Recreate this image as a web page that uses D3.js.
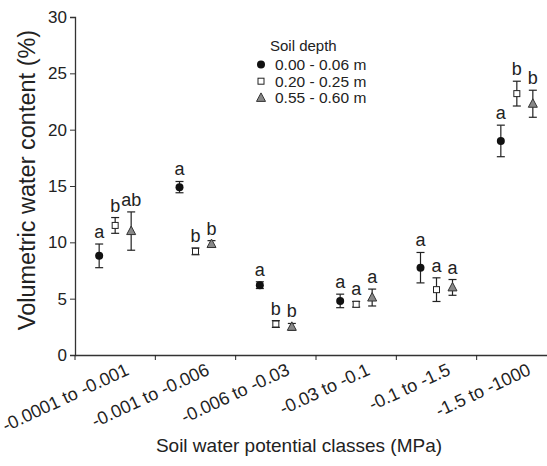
<!DOCTYPE html>
<html>
<head>
<meta charset="utf-8">
<script src="https://cdn.jsdelivr.net/npm/d3@7"></script>
<style>
body { margin: 0; background: #fff; }
text { font-family: "Liberation Sans", Arial, sans-serif; fill: #222; }
</style>
</head>
<body>
<div id="chart"></div>
<script>
var classes = ["-0.0001 to -0.001", "-0.001 to -0.006", "-0.006 to -0.03",
               "-0.03 to -0.1", "-0.1 to -1.5", "-1.5 to -1000"];
var depths = ["0.00 - 0.06 m", "0.20 - 0.25 m", "0.55 - 0.60 m"];

// mean and error per depth, one value per class
var mean0 = [8.8, 14.9, 6.2, 4.8, 7.75, 19.0];
var err0  = [1.05, 0.5, 0.3, 0.6, 1.35, 1.4];
var lab0  = ["a", "a", "a", "a", "a", "a"];
var mean1 = [11.5, 9.2, 2.75, 4.5, 5.8, 23.2];
var err1  = [0.7, 0.3, 0.3, 0.25, 1.05, 1.1];
var lab1  = ["b", "b", "b", "a", "a", "b"];
var mean2 = [11.0, 9.85, 2.5, 5.1, 6.0, 22.3];
var err2  = [1.7, 0.3, 0.3, 0.75, 0.7, 1.2];
var lab2  = ["ab", "b", "b", "a", "a", "b"];

var W = 547, H = 466;
var svg = d3.select("#chart").append("svg")
    .attr("width", W).attr("height", H);

var x = d3.scaleBand().domain(classes).range([75, 557]);
var y = d3.scaleLinear().domain([0, 30]).range([355, 17]);
var off = d3.scalePoint().domain(depths).range([-16, 16]);

// y axis
var yAxisG = svg.append("g")
    .attr("transform", "translate(75,0)")
    .call(d3.axisLeft(y).tickValues([0, 5, 10, 15, 20, 25, 30]).tickSize(5).tickPadding(3));
yAxisG.selectAll("text").attr("font-size", "17px").style("fill", "#222");

// x axis with ticks at class boundaries
var xAxisG = svg.append("g")
    .attr("transform", "translate(0,355)")
    .call(d3.axisBottom(x).tickSize(0).tickFormat(""));
xAxisG.selectAll(".tick").remove();
xAxisG.selectAll(".bound")
    .data(classes)
  .enter().append("line")
    .attr("x1", function (d) { return x(d); })
    .attr("x2", function (d) { return x(d); })
    .attr("y1", 0).attr("y2", 5)
    .attr("stroke", "#222");
xAxisG.selectAll(".lab")
    .data(classes)
  .enter().append("text")
    .attr("text-anchor", "end")
    .attr("font-size", "18px")
    .attr("transform", function (d) {
      return "translate(" + (x(d) + x.bandwidth() / 2 + 15) + ",19) rotate(-25)";
    })
    .text(function (d) { return d; });

svg.selectAll(".domain").attr("stroke", "#333").attr("stroke-width", 1.3);
svg.selectAll(".tick line").attr("stroke", "#333");

// axis titles
svg.append("text")
    .attr("x", 299).attr("y", 452)
    .attr("text-anchor", "middle")
    .attr("font-size", "19px")
    .text("Soil water potential classes (MPa)");
svg.append("text")
    .attr("transform", "translate(35,180) rotate(-90)")
    .attr("text-anchor", "middle")
    .attr("font-size", "23.5px")
    .text("Volumetric water content (%)");

var series = [
  { depth: depths[0], mean: mean0, err: err0, lab: lab0 },
  { depth: depths[1], mean: mean1, err: err1, lab: lab1 },
  { depth: depths[2], mean: mean2, err: err2, lab: lab2 }
];

function marker(g, depth) {
  if (depth === depths[0]) {
    g.append("circle").attr("r", 4).attr("fill", "#111");
  } else if (depth === depths[1]) {
    g.append("rect").attr("x", -3).attr("y", -3).attr("width", 6).attr("height", 6)
      .attr("fill", "#fff").attr("stroke", "#222").attr("stroke-width", 1);
  } else {
    g.append("path").attr("d", "M0,-5L4.5,3.5L-4.5,3.5Z")
      .attr("fill", "#888").attr("stroke", "#333").attr("stroke-width", 1);
  }
}

series.forEach(function (s) {
  var pts = classes.map(function (c, i) {
    return { c: c, m: s.mean[i], e: s.err[i], l: s.lab[i] };
  });
  var cx = function (d) { return x(d.c) + x.bandwidth() / 2 + off(s.depth); };
  var g = svg.append("g");
  var pg = g.selectAll("g").data(pts).enter().append("g");
  pg.append("line")
    .attr("x1", cx).attr("x2", cx)
    .attr("y1", function (d) { return y(d.m + d.e); })
    .attr("y2", function (d) { return y(d.m - d.e); })
    .attr("stroke", "#222").attr("stroke-width", 1.2);
  [1, -1].forEach(function (sg) {
    pg.append("line")
      .attr("x1", function (d) { return cx(d) - 4; })
      .attr("x2", function (d) { return cx(d) + 4; })
      .attr("y1", function (d) { return y(d.m + sg * d.e); })
      .attr("y2", function (d) { return y(d.m + sg * d.e); })
      .attr("stroke", "#222").attr("stroke-width", 1.2);
  });
  pg.each(function (d) {
    var mg = d3.select(this).append("g")
      .attr("transform", "translate(" + cx(d) + "," + y(d.m) + ")");
    marker(mg, s.depth);
  });
  pg.append("text")
    .attr("x", cx)
    .attr("y", function (d) { return y(d.m + d.e) - 6; })
    .attr("text-anchor", "middle")
    .attr("font-size", "18px")
    .text(function (d) { return d.l; });
});

// legend
var leg = svg.append("g");
leg.append("text").attr("x", 270).attr("y", 51).attr("font-size", "15px").text("Soil depth");
depths.forEach(function (d, i) {
  var yy = 64.5 + i * 16.7;
  var mg = leg.append("g").attr("transform", "translate(261," + yy + ")");
  marker(mg, d);
  leg.append("text").attr("x", 275).attr("y", yy + 5.5).attr("font-size", "15.5px").text(d);
});
</script>
</body>
</html>
